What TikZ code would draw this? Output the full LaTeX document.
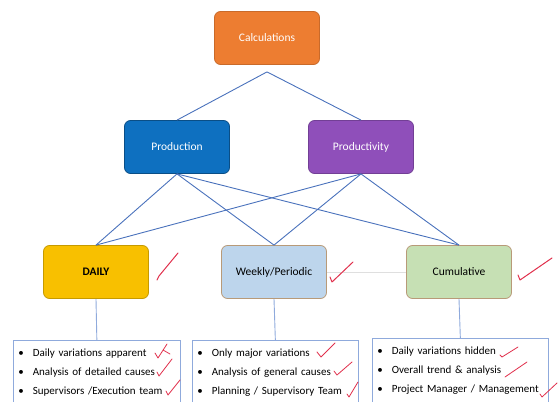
\documentclass[tikz,border=0pt]{standalone}
\usepackage{fontspec}
\setmainfont{Carlito}
\usepackage{xcolor}
\definecolor{calcorange}{HTML}{ED7D31}
\definecolor{prodblue}{HTML}{0E70C0}
\definecolor{prodpurple}{HTML}{8F4FBA}
\definecolor{dailygold}{HTML}{F8C000}
\definecolor{weeklyblue}{HTML}{BDD5EC}
\definecolor{cumulgreen}{HTML}{C6E0B4}
\definecolor{tanborder}{HTML}{B89A78}
\definecolor{linkblue}{HTML}{4A72BC}
\definecolor{listblue}{HTML}{8FAADC}
\definecolor{tickred}{HTML}{E0304C}
\tikzset{
    topbox/.style = {rectangle, rounded corners=6pt, minimum width=105pt, minimum height=53pt, text centered, line width=0.8pt, font=\fontsize{11.5}{13}\selectfont},
    periodbox/.style = {topbox, draw=tanborder, text=black},
    listbox/.style = {rectangle, anchor=north west, draw=listblue, line width=0.7pt, align=left, inner xsep=5pt, inner ysep=9pt, font=\fontsize{11}{19}\selectfont},
    link/.style = {draw=linkblue, line width=0.9pt},
    tick/.style = {draw=tickred, line width=0.8pt, line cap=round, line join=round}
}

\begin{document}
\begin{tikzpicture}[x=1pt, y=-1pt]
    \useasboundingbox (0, 0) rectangle (558, 402);

    \node (calc) [topbox, fill=calcorange, draw=calcorange!85!black, text=white] at (267, 38) {Calculations};
    \node (prod) [topbox, fill=prodblue, draw=prodblue!70!black, text=white] at (177, 147) {Production};
    \node (prodty) [topbox, fill=prodpurple, draw=prodpurple!80!black, text=white] at (361, 147) {Productivity};

    \node (daily) [topbox, fill=dailygold, draw=dailygold!80!black, font=\fontsize{11.5}{13}\selectfont\bfseries] at (96, 272) {DAILY};
    \node (weekly) [periodbox, fill=weeklyblue] at (274, 272) {Weekly/Periodic};
    \node (cumul) [periodbox, fill=cumulgreen] at (459, 272) {Cumulative};

    \node (dailylist) [listbox, text width=157pt] at (13, 340) {\textbullet\hspace{9pt}Daily variations apparent\\ \textbullet\hspace{9pt}Analysis of detailed causes\\ \textbullet\hspace{9pt}Supervisors /Execution team\par\vspace*{10pt}};
    \node (weeklylist) [listbox, text width=156pt] at (192, 340) {\textbullet\hspace{9pt}Only major variations\\ \textbullet\hspace{9pt}Analysis of general causes\\ \textbullet\hspace{9pt}Planning / Supervisory Team\par\vspace*{10pt}};
    \node (cumullist) [listbox, text width=166pt] at (372, 338) {\textbullet\hspace{9pt}Daily variations hidden\\ \textbullet\hspace{9pt}Overall trend \& analysis\\ \textbullet\hspace{9pt}Project Manager / Management\par\vspace*{10pt}};

    \coordinate (apex) at ([yshift=-7pt]calc.south);
    \draw [link] (apex) -- (prod.north);
    \draw [link] (apex) -- (prodty.north);

    \draw [link] (prod.south) -- (daily.north);
    \draw [link] (prod.south) -- (weekly.north);
    \draw [link] (prod.south) -- (cumul.north);
    \draw [link] (prodty.south) -- (daily.north);
    \draw [link] (prodty.south) -- (weekly.north);
    \draw [link] (prodty.south) -- (cumul.north);

    \draw [gray!25, line width=0.6pt] (weekly.east) -- (cumul.west);

    \draw [draw=listblue, line width=0.9pt] (daily.south) -- (dailylist.north);
    \draw [draw=listblue, line width=0.9pt] (weekly.south) -- (weeklylist.north);
    \draw [draw=listblue, line width=0.9pt] (cumul.south) -- (cumullist.north);

    % hand ticks
    \draw [tick, line width=1pt] (157, 280) -- (159, 276) -- (178, 253);
    \draw [tick, line width=1pt] (330, 277) -- (332, 282) -- (353, 262);
    \draw [tick, line width=1pt] (518, 275) -- (520, 280) -- (552, 258);

    \draw [tick] (155, 353) -- (158, 358) -- (167, 344) (163, 350) -- (170, 354);
    \draw [tick] (157, 372) -- (159, 376) -- (172, 359);
    \draw [tick] (166, 391) -- (168, 395) -- (180, 380);
    \draw [tick] (317, 352) -- (321, 357) -- (335, 343);
    \draw [tick] (334, 371) -- (337, 375) -- (352, 362);
    \draw [tick] (347, 394) -- (349, 397) -- (358, 382);
    \draw [tick] (500, 355) -- (502, 357) -- (518, 347);
    \draw [tick] (505, 377) -- (527, 362);
    \draw [tick] (540, 394) -- (542, 397) -- (557, 383);
\end{tikzpicture}
\end{document}
